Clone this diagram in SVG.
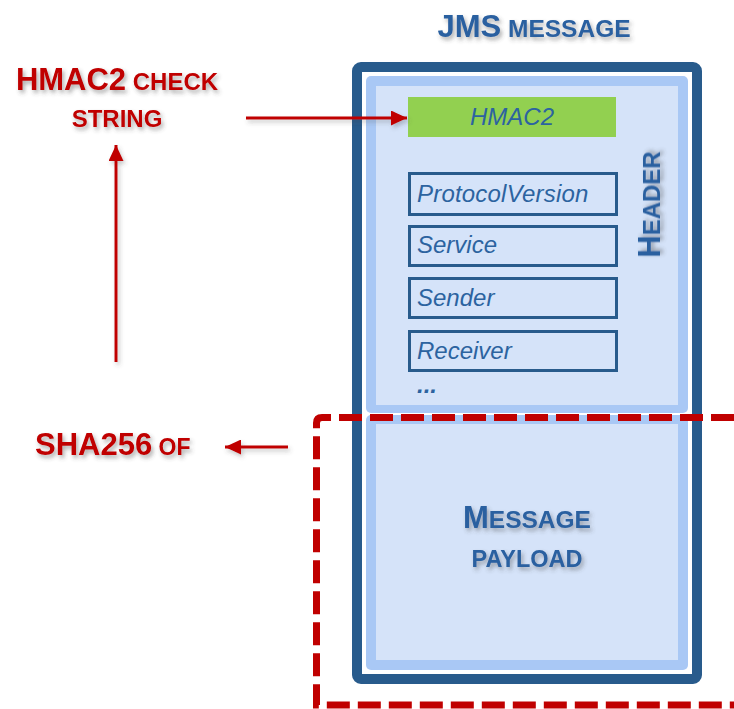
<svg xmlns="http://www.w3.org/2000/svg" width="734" height="709" viewBox="0 0 734 709">
<defs>
<filter id="sh" x="-20%" y="-40%" width="150%" height="190%">
<feDropShadow dx="2" dy="3" stdDeviation="2" flood-color="#444" flood-opacity="0.45"/>
</filter>
<filter id="ash" x="-30%" y="-30%" width="160%" height="160%">
<feDropShadow dx="2" dy="3" stdDeviation="2" flood-color="#444" flood-opacity="0.3"/>
</filter>
<marker id="ah" viewBox="0 0 16 15" refX="16" refY="7.5" markerWidth="16" markerHeight="15" orient="auto" markerUnits="userSpaceOnUse">
<path d="M0,0 L16,7.5 L0,15 Z" fill="#c00000"/>
</marker>
<style>
.title{font-family:"Liberation Sans",Arial,sans-serif;font-weight:bold;fill:#2a60a0}
.red{font-family:"Liberation Sans",Arial,sans-serif;font-weight:bold;fill:#c00000}
.field{font-family:"Liberation Sans",Arial,sans-serif;font-style:italic;font-size:24px;fill:#2c63a0}
.fbox{fill:none;stroke:#285b8c;stroke-width:3}
.conn{stroke:#c00000;stroke-width:3;fill:none}
</style>
</defs>

<g id="title">
<text class="title" x="534" y="37" text-anchor="middle" filter="url(#sh)"><tspan font-size="31">JMS</tspan><tspan font-size="24.5"> MESSAGE</tspan></text>
</g>

<g id="jms-message">
<rect x="357" y="67" width="340" height="612" rx="4" fill="#fff" stroke="#285b8c" stroke-width="10"/>
</g>

<g id="header">
<rect x="366" y="76" width="322" height="337" rx="5" fill="#a9c8f5"/>
<rect x="376" y="86" width="302" height="319" fill="#d5e3f9"/>
<text class="title" transform="translate(660,204.5) rotate(-90)" text-anchor="middle" filter="url(#sh)"><tspan font-size="31">H</tspan><tspan font-size="24">EADER</tspan></text>
</g>

<g id="hmac2">
<rect x="408" y="97" width="208" height="40" fill="#92d050"/>
<text class="field" x="512" y="125" text-anchor="middle">HMAC2</text>
</g>

<g id="protocolversion">
<rect class="fbox" x="409.5" y="173.5" width="207" height="41"/>
<text class="field" x="417" y="202" letter-spacing="0.2">ProtocolVersion</text>
</g>
<g id="service">
<rect class="fbox" x="409.5" y="226.5" width="207" height="39"/>
<text class="field" x="417" y="253">Service</text>
</g>
<g id="sender">
<rect class="fbox" x="409.5" y="278.5" width="207" height="39"/>
<text class="field" x="417" y="306">Sender</text>
</g>
<g id="receiver">
<rect class="fbox" x="409.5" y="331.5" width="207" height="39"/>
<text class="field" x="417" y="359">Receiver</text>
</g>
<g id="more">
<text class="field" x="417" y="393" font-weight="bold">...</text>
</g>

<g id="payload">
<rect x="366" y="415" width="322" height="255" rx="5" fill="#a9c8f5"/>
<rect x="376" y="424" width="302" height="236" fill="#d5e3f9"/>
<text class="title" x="527" y="528" text-anchor="middle" filter="url(#sh)"><tspan font-size="31">M</tspan><tspan font-size="24.5">ESSAGE</tspan></text>
<text class="title" x="527" y="567" text-anchor="middle" font-size="23.5" filter="url(#sh)">PAYLOAD</text>
</g>

<g id="hmac2-check-string">
<text class="red" x="117" y="90" text-anchor="middle" filter="url(#sh)"><tspan font-size="31">HMAC2</tspan><tspan font-size="24"> CHECK</tspan></text>
<text class="red" x="117" y="127" text-anchor="middle" font-size="24" filter="url(#sh)">STRING</text>
</g>

<g id="sha256-of">
<text class="red" x="35" y="455" filter="url(#sh)"><tspan font-size="31">SHA256</tspan><tspan font-size="23"> OF</tspan></text>
</g>

<g id="signed-region">
<path d="M734,417.5 H322 Q316.5,417.5 316.5,423 V705 H734" fill="none" stroke="#c00000" stroke-width="7" stroke-dasharray="23 8"/>
</g>

<g id="connectors" filter="url(#ash)">
<line class="conn" x1="246" y1="118" x2="407" y2="118" marker-end="url(#ah)"/>
<line class="conn" x1="116" y1="362" x2="116" y2="145" marker-end="url(#ah)"/>
<line class="conn" x1="288" y1="447" x2="225" y2="447" marker-end="url(#ah)"/>
</g>
</svg>
